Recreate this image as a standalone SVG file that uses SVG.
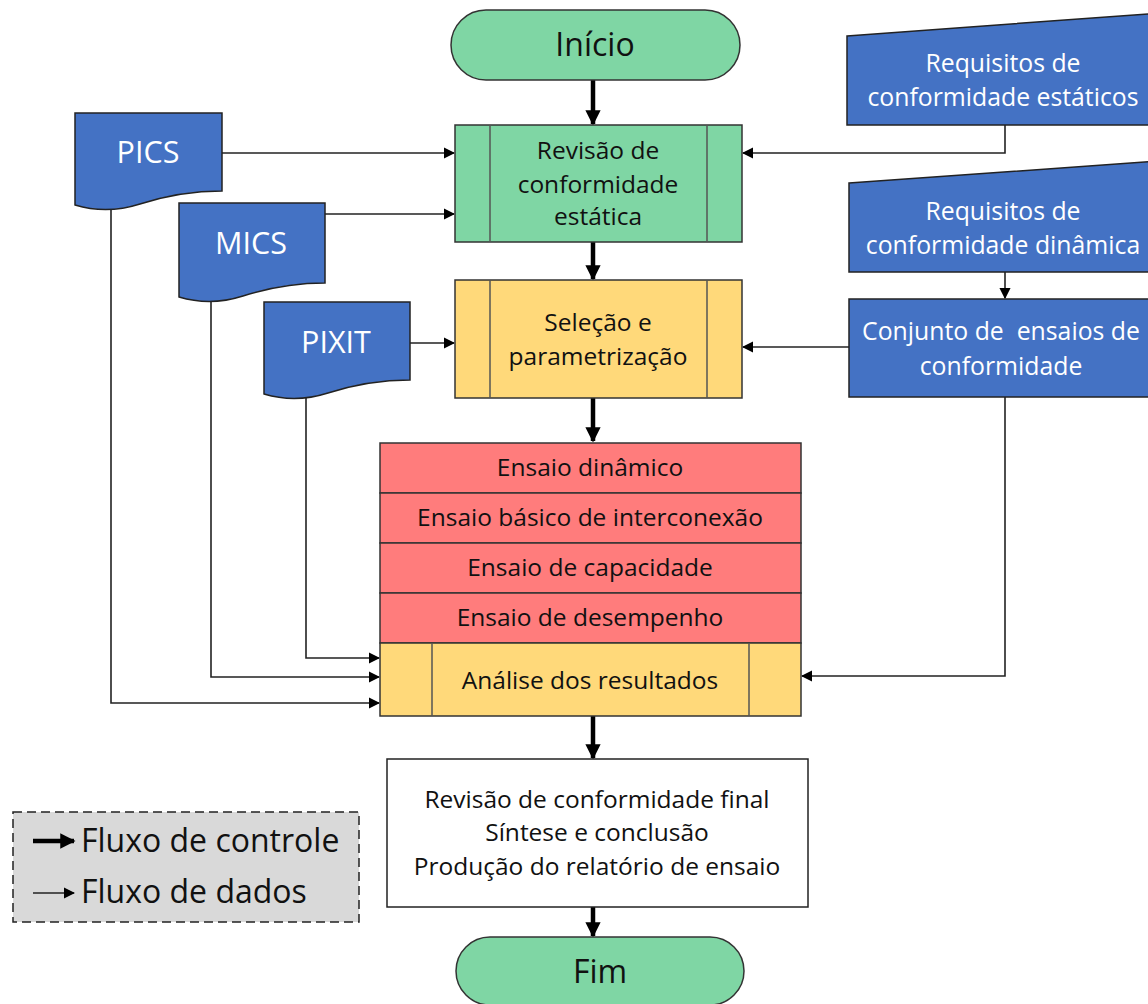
<svg xmlns="http://www.w3.org/2000/svg" width="1148" height="1004" viewBox="0 0 1148 1004">
  <style>
    text { font-family: "Open Sans", Lato, "Liberation Sans", sans-serif; text-anchor: middle; }
    .lbl { font-size: 24.5px; fill: #111; }
    .big { font-size: 32px; fill: #111; }
    .wlbl { font-size: 24.8px; fill: #ffffff; }
    .wbig { font-size: 30.5px; fill: #ffffff; }
    .green { fill: #7fd6a4; stroke: #333; stroke-width: 1.5; }
    .yellow { fill: #ffd97a; stroke: #333; stroke-width: 1.5; }
    .red { fill: #ff7c7c; stroke: #333; stroke-width: 1.5; }
    .blue { fill: #4472c4; stroke: #222; stroke-width: 1.5; }
    .white { fill: #ffffff; stroke: #222; stroke-width: 1.5; }
    .div { stroke: #555; stroke-width: 1.5; fill: none; }
    .ctrl { stroke: #000; stroke-width: 4.5; fill: none; marker-end: url(#headBig); }
    .data { stroke: #222; stroke-width: 1.6; fill: none; marker-end: url(#headSmall); }
  </style>
  <defs>
    <marker id="headBig" viewBox="0 0 10 10" refX="9" refY="5" markerWidth="3.4" markerHeight="3.4" markerUnits="strokeWidth" orient="auto">
      <path d="M0,0 L10,5 L0,10 Z" fill="#000"/>
    </marker>
    <marker id="headSmall" viewBox="0 0 10 10" refX="9" refY="5" markerWidth="7" markerHeight="7" markerUnits="strokeWidth" orient="auto">
      <path d="M0,0 L10,5 L0,10 Z" fill="#000"/>
    </marker>
  </defs>

  <!-- connectors -->
  <g id="connectors">
    <!-- control flow -->
    <line class="ctrl" x1="593" y1="80" x2="593" y2="124"/>
    <line class="ctrl" x1="593" y1="242" x2="593" y2="279"/>
    <line class="ctrl" x1="593" y1="398" x2="593" y2="441"/>
    <line class="ctrl" x1="593" y1="716" x2="593" y2="758"/>
    <line class="ctrl" x1="593" y1="907" x2="593" y2="936"/>
    <!-- data flow -->
    <line class="data" x1="222" y1="153" x2="454" y2="153"/>
    <line class="data" x1="325" y1="214" x2="454" y2="214"/>
    <line class="data" x1="410" y1="343" x2="454" y2="343"/>
    <polyline class="data" points="111,206 111,703 379,703"/>
    <polyline class="data" points="211,297 211,677 379,677"/>
    <polyline class="data" points="306,394 306,658 379,658"/>
    <polyline class="data" points="1005,125 1005,153 743,153"/>
    <line class="data" x1="1005" y1="272" x2="1005" y2="298"/>
    <line class="data" x1="849" y1="347" x2="743" y2="347"/>
    <polyline class="data" points="1005,397 1005,676 802,676"/>
  </g>

  <!-- start -->
  <g id="inicio">
    <rect class="green" x="451" y="10" width="289" height="70" rx="35"/>
    <text class="big" x="595" y="56">Início</text>
  </g>

  <!-- static conformance review -->
  <g id="revisao">
    <rect class="green" x="455" y="125" width="287" height="117"/>
    <line class="div" x1="490" y1="125" x2="490" y2="242"/>
    <line class="div" x1="707" y1="125" x2="707" y2="242"/>
    <text class="lbl" x="598" y="159">Revisão de</text>
    <text class="lbl" x="598" y="193">conformidade</text>
    <text class="lbl" x="598" y="225">estática</text>
  </g>

  <!-- selection and parametrization -->
  <g id="selecao">
    <rect class="yellow" x="455" y="280" width="287" height="118"/>
    <line class="div" x1="490" y1="280" x2="490" y2="398"/>
    <line class="div" x1="707" y1="280" x2="707" y2="398"/>
    <text class="lbl" x="598" y="331">Seleção e</text>
    <text class="lbl" x="598" y="365">parametrização</text>
  </g>

  <!-- dynamic test stack -->
  <g id="ensaios">
    <rect class="red" x="380" y="443" width="421" height="50"/>
    <rect class="red" x="380" y="493" width="421" height="50"/>
    <rect class="red" x="380" y="543" width="421" height="50"/>
    <rect class="red" x="380" y="593" width="421" height="50"/>
    <text class="lbl" x="590" y="476">Ensaio dinâmico</text>
    <text class="lbl" x="590" y="526">Ensaio básico de interconexão</text>
    <text class="lbl" x="590" y="576">Ensaio de capacidade</text>
    <text class="lbl" x="590" y="626">Ensaio de desempenho</text>
  </g>

  <!-- result analysis -->
  <g id="analise">
    <rect class="yellow" x="380" y="643" width="421" height="73"/>
    <line class="div" x1="432" y1="643" x2="432" y2="716"/>
    <line class="div" x1="749" y1="643" x2="749" y2="716"/>
    <text class="lbl" x="590" y="689">Análise dos resultados</text>
  </g>

  <!-- final review -->
  <g id="final">
    <rect class="white" x="387" y="759" width="421" height="148"/>
    <text class="lbl" x="597" y="808">Revisão de conformidade final</text>
    <text class="lbl" x="597" y="841">Síntese e conclusão</text>
    <text class="lbl" x="597" y="875">Produção do relatório de ensaio</text>
  </g>

  <!-- end -->
  <g id="fim">
    <rect class="green" x="456" y="937" width="288" height="68" rx="34"/>
    <text class="big" x="600" y="983">Fim</text>
  </g>

  <!-- documents -->
  <g id="pics">
    <path class="blue" d="M75,113 H222 V191 C190,191 165,196 140,204 C118,211 95,211 75,205 Z"/>
    <text class="wbig" x="148" y="163">PICS</text>
  </g>
  <g id="mics">
    <path class="blue" d="M179,203 H325 V283 C293,283 268,288 243,296 C221,303 199,303 179,297 Z"/>
    <text class="wbig" x="251" y="254">MICS</text>
  </g>
  <g id="pixit">
    <path class="blue" d="M264,302 H410 V380 C378,380 353,385 328,393 C306,400 284,400 264,394 Z"/>
    <text class="wbig" x="336" y="353">PIXIT</text>
  </g>

  <!-- requirement inputs -->
  <g id="req-estaticos">
    <polygon class="blue" points="847,36 1160,13 1160,125 847,125"/>
    <text class="wlbl" x="1003" y="72">Requisitos de</text>
    <text class="wlbl" x="1003" y="106">conformidade estáticos</text>
  </g>
  <g id="req-dinamica">
    <polygon class="blue" points="849,183 1160,161 1160,272 849,272"/>
    <text class="wlbl" x="1003" y="220">Requisitos de</text>
    <text class="wlbl" x="1003" y="254">conformidade dinâmica</text>
  </g>
  <g id="conjunto">
    <rect class="blue" x="849" y="299" width="311" height="98"/>
    <text class="wlbl" x="1001" y="340" xml:space="preserve">Conjunto de  ensaios de</text>
    <text class="wlbl" x="1001" y="375">conformidade</text>
  </g>

  <!-- legend -->
  <g id="legenda">
    <rect x="13" y="812" width="346" height="110" fill="#d9d9d9" stroke="#222" stroke-width="1.5" stroke-dasharray="9,5"/>
    <line x1="33" y1="841" x2="74" y2="841" stroke="#000" stroke-width="4.5" marker-end="url(#headBig)"/>
    <line x1="33" y1="893" x2="74" y2="893" stroke="#222" stroke-width="1.6" marker-end="url(#headSmall)"/>
    <text class="big" x="81" y="852" style="text-anchor:start">Fluxo de controle</text>
    <text class="big" x="81" y="903" style="text-anchor:start">Fluxo de dados</text>
  </g>
</svg>
